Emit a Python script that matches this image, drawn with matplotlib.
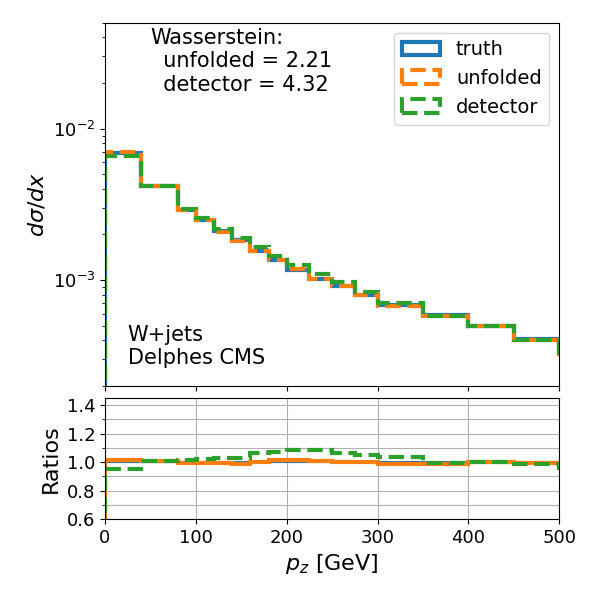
import numpy as np
import matplotlib
matplotlib.use("Agg")
from matplotlib import pyplot as plt
from matplotlib.ticker import MultipleLocator

# bin edges in p_z [GeV] (last bin lies past the shown range)
edges = [0, 40, 80, 100, 120, 140, 160, 180, 200, 225, 250, 275, 300, 350, 400, 450, 500, 550]

truth = [0.0069, 0.00415, 0.00291, 0.00250, 0.00211, 0.00184, 0.00156, 0.00135,
         0.00116, 0.00101, 0.000914, 0.000796, 0.000680, 0.000586, 0.000494, 0.000406, 0.000325]
unfolded = [0.00700, 0.00417, 0.002895, 0.00249, 0.00209, 0.00181, 0.001557, 0.001366,
            0.001174, 0.001017, 0.000912, 0.000798, 0.000673, 0.000576, 0.000494, 0.000403, 0.000323]
detector = [0.00657, 0.00419, 0.00295, 0.00255, 0.002165, 0.00189, 0.001657, 0.001443,
            0.001256, 0.001094, 0.000972, 0.000837, 0.000704, 0.000583, 0.000495, 0.000401, 0.000311]

w_unfolded = 2.21
w_detector = 4.32

edges = np.array(edges)
truth = np.array(truth)
unfolded = np.array(unfolded)
detector = np.array(detector)
centers = 0.5 * (edges[1:] + edges[:-1])

fig, (ax, rax) = plt.subplots(2, 1, figsize=(6, 6), dpi=100, sharex=True,
                              gridspec_kw={'height_ratios': [3, 1], 'hspace': 0.05})
fig.subplots_adjust(left=0.175, right=0.932, top=0.962, bottom=0.135)

ax.hist(centers, bins=edges, weights=truth, histtype='step', lw=3, color='C0', label='truth')
ax.hist(centers, bins=edges, weights=unfolded, histtype='step', lw=3, ls='--', color='C1', label='unfolded')
ax.hist(centers, bins=edges, weights=detector, histtype='step', lw=3, ls='--', color='C2', label='detector')
ax.set_yscale('log')
ax.set_ylim(2e-4, 5e-2)
ax.set_xlim(0, 500)
ax.set_ylabel(r'$d\sigma/dx$', fontsize=16)
ax.tick_params(labelsize=13)
ax.legend(loc='upper right', fontsize=14)
ax.text(0.10, 0.985, "Wasserstein:\n  unfolded = %.2f\n  detector = %.2f" % (w_unfolded, w_detector),
        transform=ax.transAxes, va='top', ha='left', fontsize=15)
ax.text(0.05, 0.05, "W+jets\nDelphes CMS", transform=ax.transAxes, va='bottom', ha='left', fontsize=15)

rax.hist(centers, bins=edges, weights=truth / truth, histtype='step', lw=1.5, color='C0')
rax.hist(centers, bins=edges, weights=unfolded / truth, histtype='step', lw=3, color='C1')
rax.hist(centers, bins=edges, weights=detector / truth, histtype='step', lw=3, ls='--', color='C2')
rax.set_ylim(0.6, 1.45)
rax.set_xlim(0, 500)
rax.yaxis.set_major_locator(MultipleLocator(0.2))
rax.yaxis.set_minor_locator(MultipleLocator(0.1))
rax.grid(True, which='major')
rax.grid(True, which='minor', axis='y')
rax.set_axisbelow(True)
rax.set_ylabel('Ratios', fontsize=16)
rax.set_xlabel(r'$p_z$ [GeV]', fontsize=16)
rax.tick_params(labelsize=13)

fig.savefig('out.png', dpi=100)
